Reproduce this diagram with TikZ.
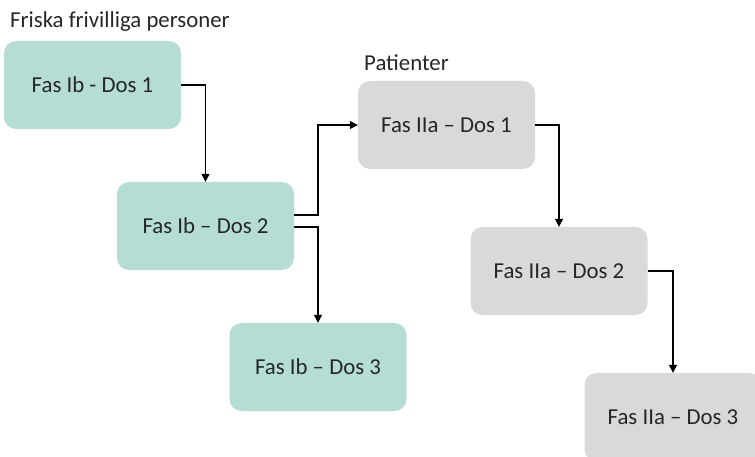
\documentclass[tikz,border=0pt]{standalone}
\usepackage{fontspec}
\setmainfont{Carlito}
\usetikzlibrary{arrows.meta}
\definecolor{teal1}{HTML}{B5DDD4}
\definecolor{gray1}{HTML}{D9D9D9}
\definecolor{txt}{HTML}{262626}
\begin{document}
\begin{tikzpicture}[x=1pt,y=-1pt,
  box/.style={rounded corners=12pt,minimum width=177pt,minimum height=88pt,inner sep=0pt,text=txt,font=\fontsize{22.8}{26}\selectfont},
  hbox/.style={box,fill=teal1},
  pbox/.style={box,fill=gray1},
  lbl/.style={anchor=base west,inner sep=0pt,text=txt,font=\fontsize{22.8}{26}\selectfont},
  conn/.style={line width=1.2pt,-{Triangle[length=8pt,width=8pt]}}]
\useasboundingbox (0,0) rectangle (755,457);
\node[lbl] (l1) at (10,28) {Friska frivilliga personer};
\node[lbl] (l2) at (364,71) {Patienter};
\node[hbox] (b1) at (92.5,85) {Fas Ib - Dos 1};
\node[hbox] (b2) at (205.5,226) {Fas Ib – Dos 2};
\node[hbox] (b3) at (318,367) {Fas Ib – Dos 3};
\node[pbox] (p1) at (446.5,125) {Fas IIa – Dos 1};
\node[pbox] (p2) at (559,271) {Fas IIa – Dos 2};
\node[pbox] (p3) at (673,417) {Fas IIa – Dos 3};
\coordinate (o1) at ([yshift=11pt]b2.east);
\coordinate (o2) at ([yshift=-1pt]b2.east);
\draw[conn] (b1.east) -| (b2.north);
\draw[conn] (o1) -- (o1 -| b3.north) |- (p1.west);
\draw[conn] (o2) -| (b3.north);
\draw[conn] (p1.east) -| (p2.north);
\draw[conn] (p2.east) -| (p3.north);
\end{tikzpicture}
\end{document}
